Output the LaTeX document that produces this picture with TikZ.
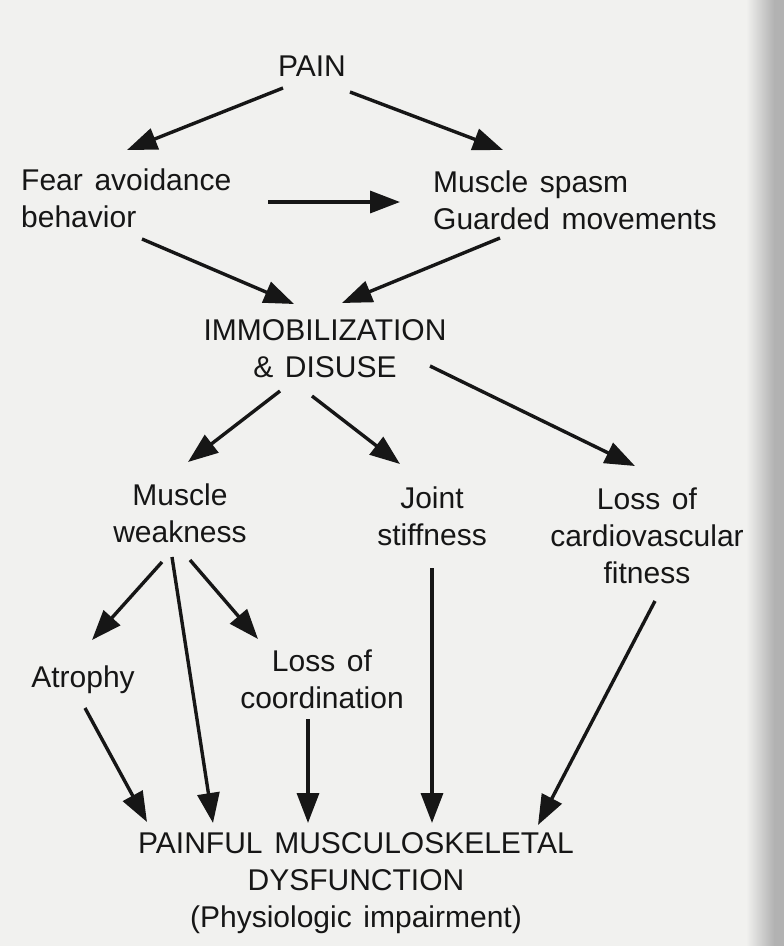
\documentclass[tikz,border=0pt]{standalone}
\usepackage{fontspec}
\setmainfont[WordSpace=1.4]{Liberation Sans}
\usepackage{xcolor}
\usetikzlibrary{arrows.meta,calc}

\definecolor{paper}{RGB}{241,241,239}
\definecolor{ink}{RGB}{22,22,22}

\begin{document}
\begin{tikzpicture}[
  x=1pt, y=-1pt,
  font=\fontsize{30}{37}\selectfont,
  lbl/.style={align=center, inner sep=0pt, text=ink},
  lbll/.style={lbl, align=left, anchor=west},
  arr/.style={-{Triangle[length=30pt,width=22pt]}, line width=3.4pt, draw=ink}
]
\fill[paper] (0,0) rectangle (784,946);
\shade[left color=paper, right color=gray!60] (746,0) rectangle (774,946);
\fill[gray!60] (774,0) rectangle (784,946);
\useasboundingbox (0,0) rectangle (784,946);

\node[lbl] (pain) at (312,66) {PAIN};
\node[lbll] (fear) at (21,198) {Fear avoidance\\behavior};
\node[lbll] (spasm) at (433,200) {Muscle spasm\\Guarded movements};
\node[lbl] (imm) at (325,349) {IMMOBILIZATION\\\& DISUSE};
\node[lbl] (weak) at (180,513) {Muscle\\weakness};
\node[lbl] (joint) at (432,516) {Joint\\stiffness};
\node[lbl] (cardio) at (647,536) {Loss of\\cardiovascular\\fitness};
\node[lbl] (atrophy) at (83,680) {Atrophy};
\node[lbl] (coord) at (322,679) {Loss of\\coordination};
\node[lbl] (pmd) at (356,883) {PAINFUL MUSCULOSKELETAL\\DYSFUNCTION\\(Physiologic impairment)};

\draw[arr] ($(pain)+(-29,22)$) -- ($(fear.west)+(106,-48)$);
\draw[arr] ($(pain)+(38,26)$) -- ($(spasm.west)+(70,-50)$);
\draw[arr] ($(fear.west)+(247,4)$) -- ($(spasm.west)+(-33,2)$);
\draw[arr] ($(fear.west)+(121,41)$) -- ($(imm)+(-31,-45)$);
\draw[arr] ($(spasm.west)+(67,38)$) -- ($(imm)+(17,-46)$);
\draw[arr] ($(imm)+(-45,42)$) -- ($(weak)+(8,-51)$);
\draw[arr] ($(imm)+(-13,47)$) -- ($(joint)+(-32,-52)$);
\draw[arr] ($(imm)+(105,17)$) -- ($(cardio)+(-12,-70)$);
\draw[arr] ($(weak)+(-18,49)$) -- ($(atrophy)+(9,-40)$);
\draw[arr] ($(weak)+(10,47)$) -- ($(coord)+(-64,-40)$);
\draw[arr] ($(weak)+(-8,44)$) -- ($(pmd)+(-143,-60)$);
\draw[arr] ($(atrophy)+(2,28)$) -- ($(pmd)+(-209,-61)$);
\draw[arr] ($(coord)+(-14,40)$) -- ($(pmd)+(-48,-60)$);
\draw[arr] ($(joint)+(0,52)$) -- ($(pmd)+(76,-60)$);
\draw[arr] ($(cardio)+(8,65)$) -- ($(pmd)+(182,-58)$);
\end{tikzpicture}
\end{document}
